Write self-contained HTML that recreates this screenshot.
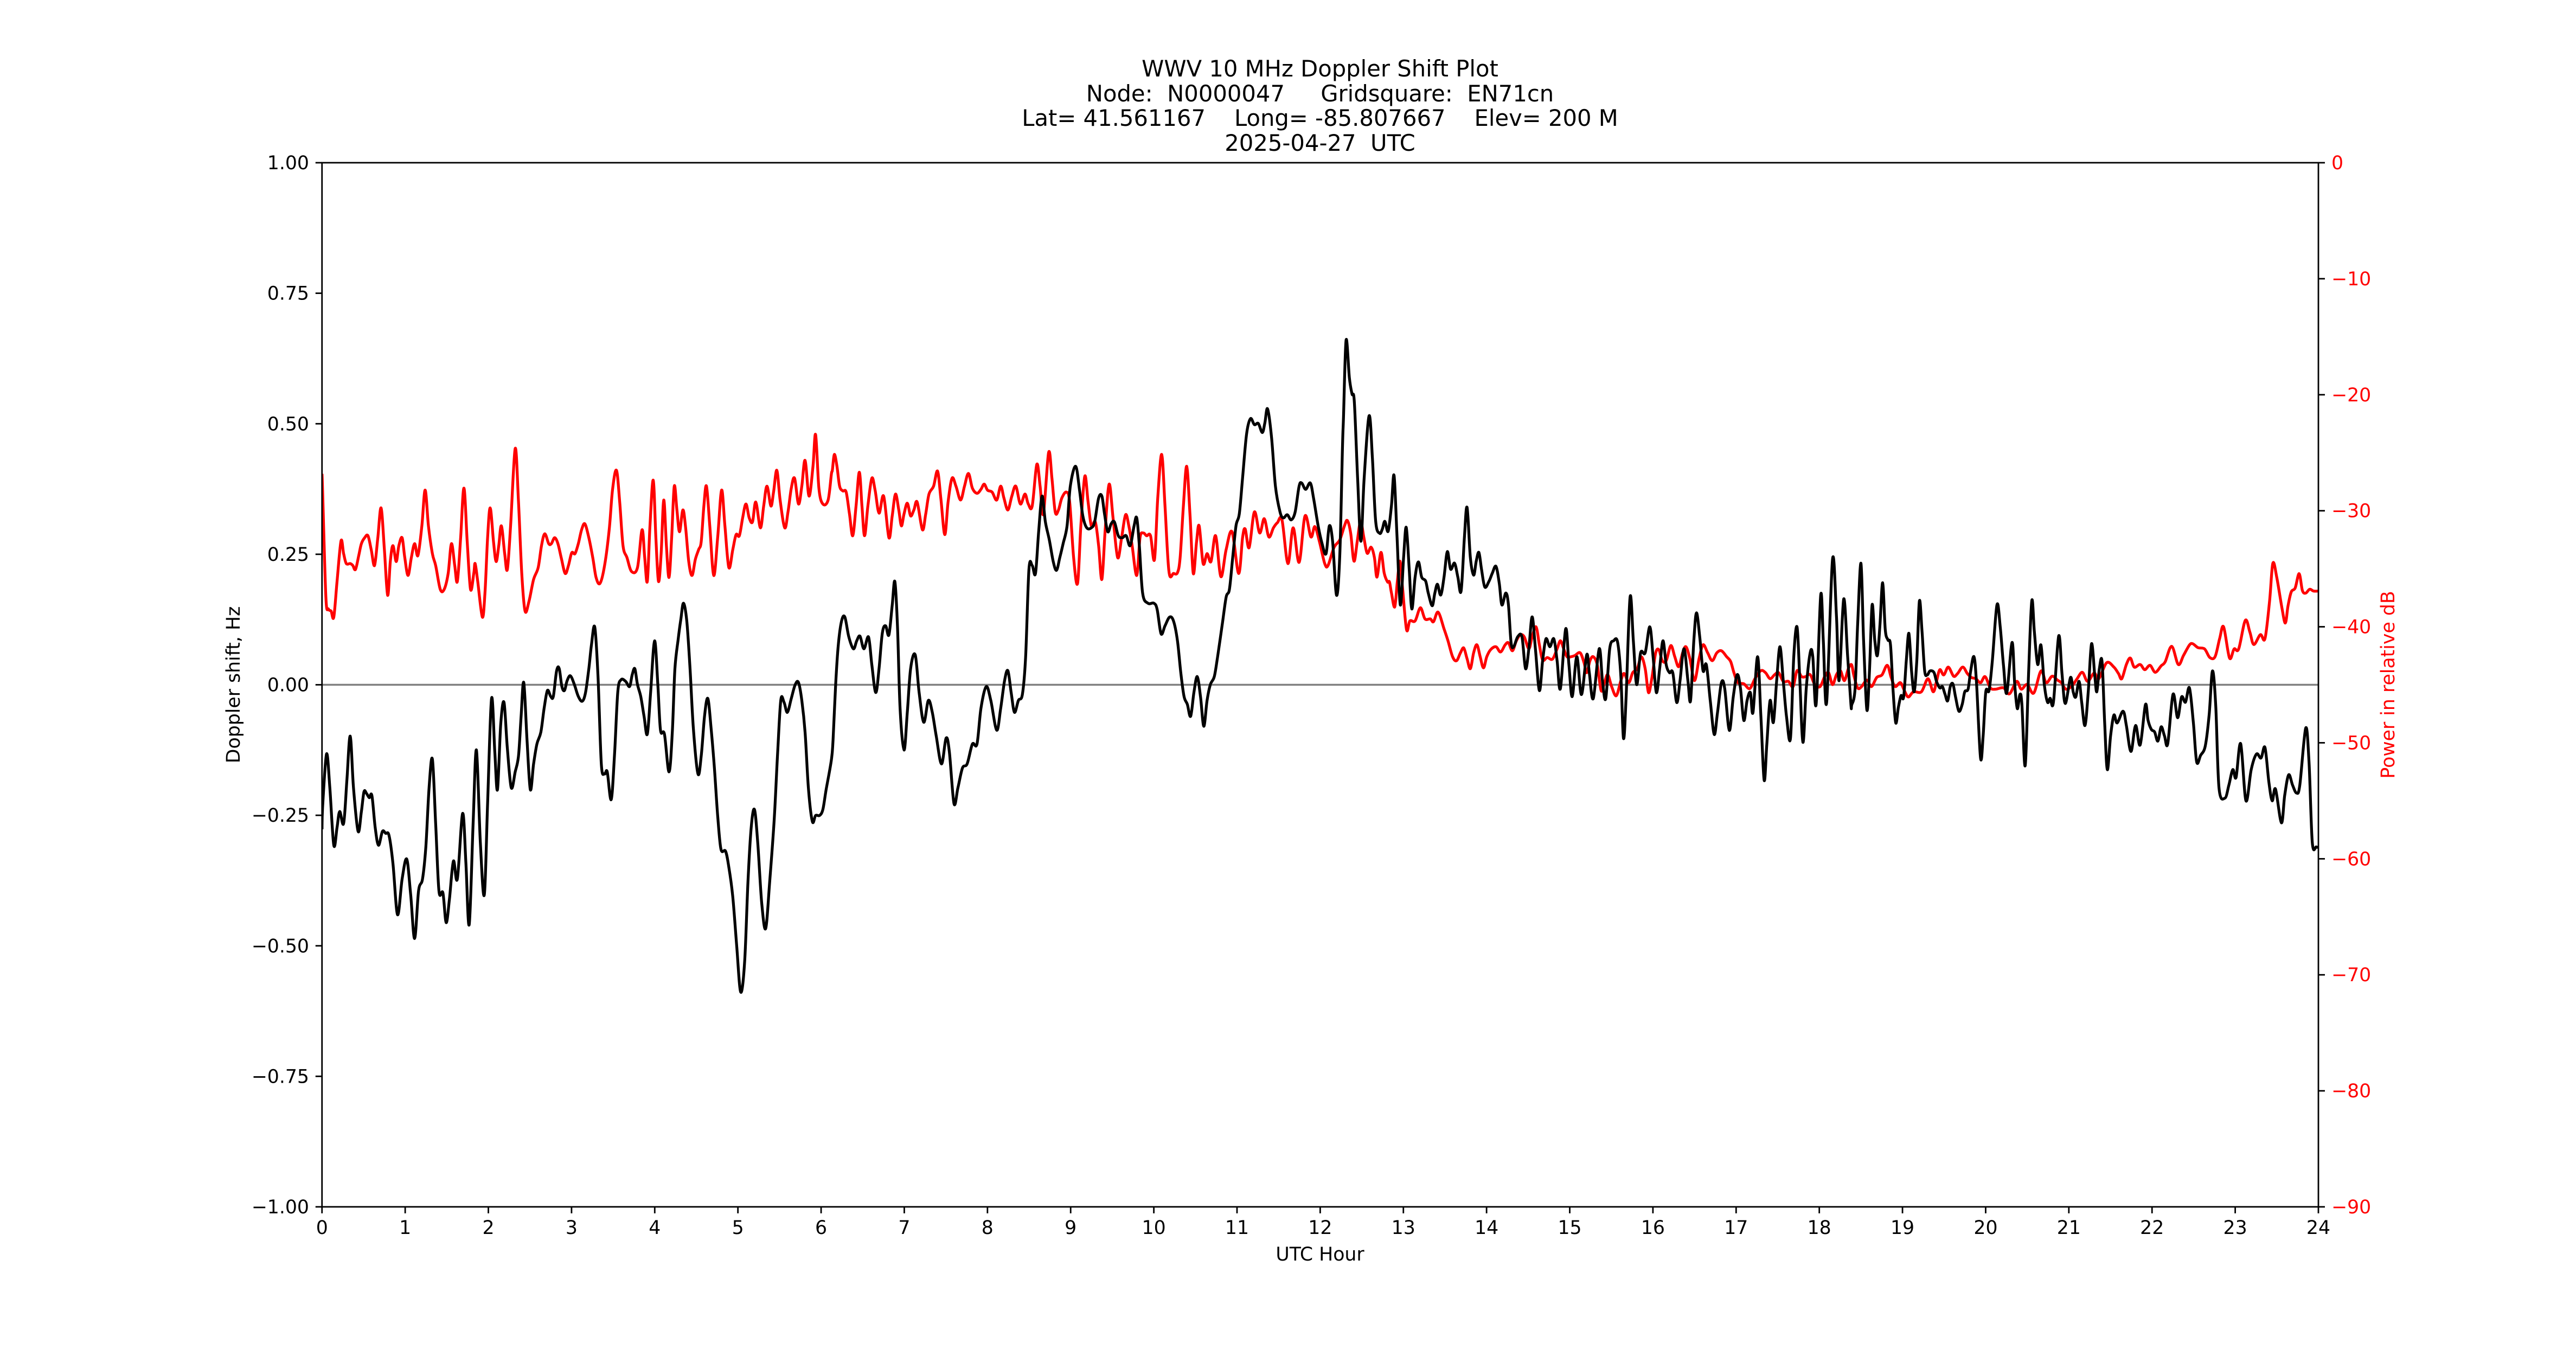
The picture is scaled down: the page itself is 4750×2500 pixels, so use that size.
<!DOCTYPE html>
<html><head><meta charset="utf-8"><style>
html,body{margin:0;padding:0;background:#fff;}
svg{display:block;}
text{font-family:"DejaVu Sans","Liberation Sans",sans-serif;font-size:34.7px;}
.t{font-size:41.7px;}
</style></head><body>
<svg id="s" width="4750" height="2500" viewBox="0 0 4750 2500" xmlns="http://www.w3.org/2000/svg">
<rect width="4750" height="2500" fill="#fff"/>
<g text-anchor="middle" xml:space="preserve">
<text class="t" x="2434" y="141">WWV 10 MHz Doppler Shift Plot</text>
<text class="t" x="2434" y="187" style="white-space:pre">Node:  N0000047     Gridsquare:  EN71cn</text>
<text class="t" x="2434" y="232" style="white-space:pre">Lat= 41.561167    Long= -85.807667    Elev= 200 M</text>
<text class="t" x="2434" y="278" style="white-space:pre">2025-04-27  UTC</text>
</g>
<defs><clipPath id="c"><rect x="593.75" y="300" width="3681.25" height="1925"/></clipPath></defs>
<line x1="593.75" y1="1262.5" x2="4275" y2="1262.5" stroke="#808080" stroke-width="3.5"/>
<g clip-path="url(#c)">
<path id="red" fill="none" stroke="#ff0000" stroke-width="5.2" stroke-linejoin="round"/>
<path id="blk" fill="none" stroke="#000" stroke-width="5.2" stroke-linejoin="round"/>
</g>
<rect x="593.75" y="300" width="3681.25" height="1925" fill="none" stroke="#000" stroke-width="2.8"/>
<g id="ticks"></g>
<text x="2434" y="2324" text-anchor="middle">UTC Hour</text>
<text transform="translate(442,1262.5) rotate(-90)" text-anchor="middle">Doppler shift, Hz</text>
<text transform="translate(4415,1262.5) rotate(-90)" text-anchor="middle" fill="#ff0000">Power in relative dB</text>
</svg>
<script>
var NS="http://www.w3.org/2000/svg";
var tg=document.getElementById('ticks');
function el(n,a,t){var e=document.createElementNS(NS,n);for(var k in a)e.setAttribute(k,a[k]);if(t!==undefined)e.textContent=t;tg.appendChild(e);}
for(var h=0;h<=24;h++){var x=593.75+h*153.385;el('line',{x1:x,y1:2225,x2:x,y2:2237,stroke:'#000','stroke-width':2.8});el('text',{x:x,y:2275,'text-anchor':'middle'},String(h));}
var lv=[1,0.75,0.5,0.25,0,-0.25,-0.5,-0.75,-1];
lv.forEach(function(v){var y=300+(1-v)*962.5;el('line',{x1:581.75,y1:y,x2:593.75,y2:y,stroke:'#000','stroke-width':2.8});var s=Math.abs(v).toFixed(2);if(v<0)s='\u2212'+s;el('text',{x:570,y:y+12,'text-anchor':'end'},s);});
for(var d=0;d>=-90;d-=10){var y=300+(-d)*21.389;el('line',{x1:4275,y1:y,x2:4287,y2:y,stroke:'#000','stroke-width':2.8});el('text',{x:4299,y:y+12,fill:'#ff0000'},d<0?'\u2212'+(-d):'0');}

function seg(a,x0,kx,y0,ky){var o=[];for(var i=0;i<a.length;i+=2)o.push([x0+a[i]/kx,y0+a[i+1]/ky]);return o;}
function comb(list){var o=[];list.forEach(function(s){s.forEach(function(p){if(!o.length||p[0]>o[o.length-1][0]+0.5)o.push(p);});});return o;}
function path(p){var d='M'+p[0][0].toFixed(1)+','+p[0][1].toFixed(1);for(var i=0;i<p.length-1;i++){var p0=p[i>0?i-1:i],p1=p[i],p2=p[i+1],p3=p[i+2<p.length?i+2:i+1];var c1x=p1[0]+(p2[0]-p0[0])/6,c1y=p1[1]+(p2[1]-p0[1])/6,c2x=p2[0]-(p3[0]-p1[0])/6,c2y=p2[1]-(p3[1]-p1[1])/6;d+='C'+c1x.toFixed(1)+','+c1y.toFixed(1)+' '+c2x.toFixed(1)+','+c2y.toFixed(1)+' '+p2[0].toFixed(1)+','+p2[1].toFixed(1);}return d;}

var B3=[8,1010,20,875,30,960,42,1105,52,1060,60,1020,72,1050,82,940,92,830,102,960,116,1070,126,1020,134,970,142,975,150,985,158,980,168,1060,178,1105,190,1070,200,1075,210,1080,222,1150,236,1280,250,1190,264,1140,276,1230,288,1340,300,1220,312,1190,322,1110,332,960,342,888,352,1050,362,1220,374,1225,384,1300,394,1240,406,1145,418,1190,434,1025,444,1150,454,1305,466,1050,476,865,488,1100,500,1230,510,1000,522,735,532,870,540,965,550,800,560,745,570,860,582,960,594,920,604,880,612,780,620,695,630,840,640,965,650,900,660,850,672,820,682,760,692,715,702,730,710,730,720,665,728,660,736,705,744,715,752,690,762,678,774,700,786,730,798,742,808,720,818,660,826,600,836,555,846,680,856,900,866,925,874,920,886,990,896,880,906,720,916,688,930,692,942,705,950,675,958,660,966,700,976,730,986,780,996,825,1006,720,1018,590,1028,700,1036,815,1048,825,1062,920,1072,820,1080,660,1090,585,1098,535,1106,495,1116,540,1126,660,1136,810,1150,925,1160,880,1170,780,1180,735,1190,810,1200,910,1210,1030,1220,1115,1234,1120,1244,1160,1256,1235,1268,1360,1280,1475,1292,1400,1302,1200,1312,1060,1322,1015,1332,1100,1344,1250,1356,1315,1368,1200,1382,1040,1392,880,1402,740,1412,745,1422,770,1434,735,1446,700,1456,695,1466,740,1476,820,1486,960,1498,1045,1508,1030,1520,1030,1530,1015,1540,965,1556,890];
var B4=[0,935,10,840,18,700,26,600,36,540,46,530,58,580,72,610,82,590,92,578,104,610,118,580,128,650,140,720,150,660,160,570,170,552,180,575,190,500,198,440,206,550,214,760,226,865,236,770,246,660,260,625,272,720,286,795,300,740,312,770,324,830,340,900,354,835,364,870,378,1000,390,960,404,910,418,900,434,850,448,850,460,760,476,705,490,740,508,815,520,760,532,690,542,665,552,720,562,770,574,740,586,725,596,630,606,410,616,400,626,420,636,310,646,225,656,290,668,335,680,390,690,412,700,380,710,345,722,300,732,200,748,150,760,210,770,275,782,305,796,305,806,290,818,230,828,225,836,270,846,315,856,295,866,290,878,325,890,330,902,325,914,350,926,300,934,280,942,350,952,470,968,495,986,495,996,510,1008,572,1020,552,1034,530,1046,540,1058,590,1068,670,1078,730,1088,750,1098,780,1108,720,1118,680,1128,730,1138,805,1148,740,1158,700,1170,680,1180,630,1194,550,1206,480,1216,460,1226,380,1236,300,1246,270,1256,180,1268,70,1280,30,1292,45,1304,42,1316,65,1324,40,1332,5,1344,75,1356,200,1370,265,1380,280,1392,272,1404,285,1416,265,1428,200,1436,192,1448,208,1462,192,1472,230,1486,300,1498,345,1510,370,1520,300,1530,340,1542,475,1552,370,1560,100];
var B5=[6,560,12,300,20,105,30,200,38,240,45,260,55,450,65,610,75,450,90,295,100,400,110,560,122,590,130,580,138,560,148,585,158,520,166,445,175,600,185,770,195,650,203,575,212,680,220,780,230,700,240,662,250,700,262,710,270,740,282,772,290,740,298,718,308,745,318,700,328,636,338,680,350,665,360,700,370,735,380,600,388,525,398,650,408,695,416,660,424,638,432,680,442,725,455,710,465,690,476,673,486,715,494,770,506,740,514,770,522,865,530,875,542,850,555,850,566,930,576,880,586,800,596,880,608,985,618,910,628,855,640,875,652,855,662,910,672,980,688,830,698,920,708,1000,722,900,736,995,752,895,760,940,772,1005,790,880,800,960,810,1005,822,880,834,860,846,863,856,950,864,1105,872,1000,884,750,894,860,904,970,916,890,930,890,944,825,954,900,964,990,974,930,984,860,994,920,1004,940,1014,940,1026,1015,1036,960,1048,880,1060,960,1068,1010,1078,860,1086,790,1096,850,1106,935,1116,920,1128,1010,1140,1095,1150,1040,1162,965,1172,980,1186,1085,1198,1000,1210,945,1220,980,1230,1060,1240,1010,1250,990,1258,1040,1272,900,1282,1050,1292,1210,1300,1120,1310,1010,1320,1065,1330,960,1340,875,1350,960,1360,1050,1372,1105,1382,900,1392,825,1400,950,1410,1115,1420,980,1432,890,1440,900,1450,1020,1464,745,1472,860,1482,1015,1500,655,1512,800,1520,960,1534,755,1546,900,1556,1020];
var B6=[0,320,8,500,16,710,24,730,34,670,42,420,52,185,60,480,70,750,78,600,86,345,94,480,102,540,110,420,118,260,126,440,134,480,142,500,150,680,158,800,166,740,174,695,182,700,190,560,198,455,206,600,214,680,222,560,230,330,238,450,246,600,254,615,262,600,274,605,282,640,292,665,300,660,308,690,316,715,324,660,332,650,340,700,350,755,360,730,368,680,378,670,386,600,396,545,404,650,416,935,424,850,432,680,442,675,452,560,466,345,476,430,486,580,496,685,512,490,520,650,528,745,536,690,542,730,552,965,562,620,572,330,580,450,590,575,600,500,610,650,620,720,628,705,638,720,654,465,664,610,674,725,690,625,698,680,706,700,716,640,724,720,734,810,744,680,754,495,764,620,770,680,778,590,786,565,794,800,802,980,812,850,822,770,832,800,850,755,860,810,874,910,888,810,902,885,918,730,926,790,936,825,946,835,956,870,966,815,976,850,986,880,1002,690,1016,780,1028,700,1040,720,1052,665,1064,800,1074,950,1086,925,1100,890,1112,770,1122,600,1132,730,1142,1050,1160,1090,1172,1040,1184,980,1194,1010,1208,880,1224,1100,1240,980,1256,920,1270,935,1282,895,1294,1030,1304,1100,1314,1055,1332,1185,1342,1080,1354,1000,1366,1040,1378,1070,1388,1040,1406,820,1416,950,1426,1260,1438,1278,1445,1278];
var R3=[8,210,18,480,26,510,34,515,42,530,52,440,64,338,72,370,80,395,92,395,100,400,108,410,118,375,126,345,136,330,146,325,156,360,166,400,176,330,186,255,196,360,206,475,214,390,222,350,232,390,240,350,250,330,258,380,268,425,278,380,288,345,298,375,310,300,320,210,330,300,342,370,352,400,366,460,378,460,390,420,400,345,410,400,418,440,428,330,438,205,448,340,458,460,468,420,472,395,480,440,494,530,502,470,510,330,518,255,528,340,536,390,544,350,552,300,562,370,570,410,580,300,594,105,604,240,614,420,624,515,636,490,650,435,664,405,674,350,684,320,696,345,704,345,714,330,724,345,734,380,746,420,756,400,766,368,776,370,786,345,796,310,806,295,818,330,830,380,840,430,852,445,866,400,880,310,890,210,902,160,912,240,922,350,934,380,948,415,966,405,980,310,988,380,996,440,1004,300,1014,185,1022,330,1030,440,1038,370,1046,235,1054,350,1062,430,1070,330,1078,200,1086,260,1094,315,1104,260,1112,300,1122,390,1132,425,1142,385,1152,360,1160,340,1168,250,1176,200,1186,300,1198,425,1210,330,1222,210,1232,300,1244,405,1256,360,1266,322,1276,325,1286,280,1296,245,1306,280,1316,290,1326,240,1340,305,1350,250,1360,200,1372,250,1380,215,1390,160,1400,235,1414,305,1424,265,1434,205,1444,180,1456,245,1466,200,1476,135,1488,225,1500,150,1508,70,1518,205,1530,245,1546,235,1556,170];
var R4=[4,200,8,160,14,120,22,150,30,200,40,212,50,215,60,270,70,325,80,250,90,165,98,250,106,325,116,250,128,180,138,210,150,268,164,225,180,330,190,275,200,220,210,260,218,300,226,270,236,243,246,275,256,260,266,240,282,310,292,270,302,220,316,200,328,162,338,230,350,322,360,240,372,180,384,200,398,235,410,200,422,168,434,205,448,218,460,208,470,195,480,210,494,215,508,235,520,200,530,230,542,260,554,225,566,200,580,245,594,220,604,245,616,250,630,145,640,200,650,270,666,115,676,180,686,265,696,260,706,230,720,215,730,240,742,380,754,445,764,300,776,175,786,240,796,300,808,290,818,350,828,435,838,310,850,195,862,280,876,380,888,330,900,272,910,300,920,350,934,425,944,330,954,318,964,325,976,325,988,385,998,230,1010,120,1020,250,1032,415,1046,420,1058,418,1066,380,1076,250,1086,150,1096,270,1106,420,1116,340,1124,300,1136,395,1148,370,1160,390,1174,325,1190,428,1206,360,1224,315,1244,420,1256,330,1264,308,1276,355,1292,265,1308,318,1322,282,1336,328,1350,305,1362,292,1376,285,1394,395,1410,305,1428,392,1446,275,1464,328,1476,302,1490,340,1506,395,1516,400,1534,355,1552,335,1566,300];
var R5=[6,600,12,590,24,558,34,590,44,660,54,610,64,560,74,600,84,640,96,625,106,650,114,700,126,638,136,690,146,712,152,712,158,740,168,775,176,710,184,660,192,730,204,832,214,810,230,810,246,777,260,805,276,805,286,812,300,788,318,830,330,860,344,900,356,910,368,890,378,878,388,905,398,930,408,890,418,870,428,900,438,928,448,900,460,882,476,875,490,888,504,870,514,865,526,885,538,860,550,845,562,850,576,880,586,850,598,825,608,870,618,908,632,902,648,906,662,880,672,860,682,880,692,900,704,900,716,897,732,890,744,915,752,940,762,910,772,900,784,920,796,985,806,965,816,945,828,975,842,998,856,960,866,942,880,965,892,940,906,930,918,900,930,930,940,990,950,955,962,890,972,883,982,910,994,910,1008,872,1020,900,1032,925,1044,890,1054,875,1066,905,1080,960,1094,905,1106,870,1120,890,1134,910,1148,890,1162,885,1178,900,1190,912,1200,940,1212,965,1230,968,1248,980,1264,955,1282,935,1296,940,1310,955,1324,945,1336,940,1350,962,1366,962,1380,975,1392,935,1406,950,1418,950,1432,945,1446,970,1462,975,1476,950,1488,940,1500,970,1512,945,1524,935,1536,960,1548,930,1558,920];
var R6=[0,640,10,600,20,568,30,615,42,665,54,660,70,635,84,660,100,625,116,615,132,578,144,625,156,660,172,645,184,675,196,700,212,680,236,680,256,630,272,680,282,640,292,595,304,615,318,585,334,620,346,610,362,585,376,610,388,625,402,630,416,645,430,622,446,665,462,670,486,665,504,688,526,640,540,670,558,652,578,685,600,600,616,645,634,620,650,635,662,645,676,670,694,658,710,630,726,605,742,640,762,608,776,630,800,568,822,585,836,610,846,630,860,575,872,550,884,585,902,575,916,595,932,578,948,605,966,580,978,565,998,505,1018,575,1034,540,1052,500,1062,495,1078,510,1098,515,1114,548,1130,545,1144,475,1156,430,1174,550,1188,515,1202,515,1222,405,1236,450,1248,498,1268,460,1282,475,1296,330,1306,185,1318,240,1334,360,1344,415,1352,350,1362,295,1374,280,1386,225,1396,290,1406,300,1418,285,1430,292,1445,292];

var blk=comb([seg(B3,590,1.65,750,1.367),seg(B4,1530,1.65,750,1.367),seg(B5,2470,1.65,550,1.362),seg(B6,3400,1.651,950,2.09)]);
var red=comb([seg(R3,590,1.65,750,1.367),seg(R4,1530,1.65,750,1.367),seg(R5,2470,1.65,550,1.362),seg(R6,3400,1.651,950,2.09)]);
blk.unshift([593.75,blk[0][1]+40]);
red.unshift([593.75,red[0][1]-30]);
document.getElementById('blk').setAttribute('d',path(blk));
document.getElementById('red').setAttribute('d',path(red));
</script>
</body></html>
